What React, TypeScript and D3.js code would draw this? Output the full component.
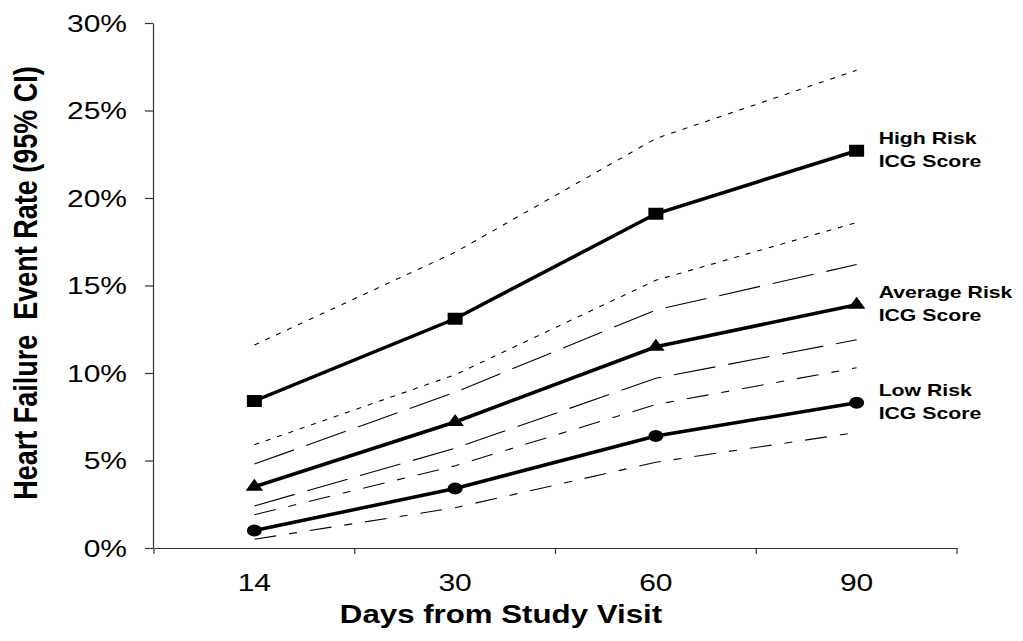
import React, { useEffect, useRef } from "react";
import * as d3 from "d3";

// days from study visit
const days = ["14", "30", "60", "90"];

// event rates in %
const highRisk = [8.4, 13.1, 19.1, 22.7];
const highUpper = [11.6, 16.9, 23.4, 27.3];
const highLower = [5.9, 9.9, 15.3, 18.6];

const avgRisk = [3.5, 7.2, 11.5, 13.9];
const avgUpper = [4.8, 8.9, 13.6, 16.2];
const avgLower = [2.4, 5.7, 9.7, 11.9];

const lowRisk = [1.0, 3.4, 6.4, 8.3];
const lowUpper = [1.9, 4.7, 8.2, 10.3];
const lowLower = [0.5, 2.3, 4.9, 6.6];

const yTicks = [0, 5, 10, 15, 20, 25, 30];

const FONT = "'Liberation Sans', Arial, sans-serif";
const SX = 1.25; // the original picture is stretched sideways

const App = () => {
  const svgRef = useRef<SVGSVGElement>(null);

  useEffect(() => {
    const svg = d3.select(svgRef.current);
    svg.selectAll("*").remove();

    const x = d3.scaleBand().domain(days).range([154, 957]);
    const y = d3.scaleLinear().domain([0, 30]).range([548, 23]);
    const cx = (d: string) => (x(d) as number) + x.bandwidth() / 2;

    // axes, labels drawn separately so they can be stretched
    const yAxis = svg
      .append("g")
      .attr("transform", "translate(153,0)")
      .call(d3.axisLeft(y).tickValues(yTicks).tickSize(8).tickSizeOuter(0).tickFormat(() => ""));
    const xAxis = svg
      .append("g")
      .attr("transform", "translate(0,548)")
      .call(d3.axisBottom(x).tickSize(0).tickSizeOuter(0).tickFormat(() => ""));
    [yAxis, xAxis].forEach((g) => {
      g.selectAll("path,line").attr("stroke", "#333").attr("stroke-width", 1.2);
    });
    // x ticks sit on the band edges
    const edges = days.map((d) => x(d) as number).concat([x.range()[1]]);
    xAxis
      .selectAll("line.edge")
      .data(edges)
      .enter()
      .append("line")
      .attr("x1", (d) => d)
      .attr("x2", (d) => d)
      .attr("y1", 0)
      .attr("y2", 6)
      .attr("stroke", "#333")
      .attr("stroke-width", 1.2);

    const text = (
      tx: number,
      ty: number,
      s: string,
      size: number,
      weight: string,
      anchor: string,
      extra = ""
    ) =>
      svg
        .append("text")
        .attr("transform", `translate(${tx},${ty}) scale(${SX},1) ${extra}`)
        .attr("text-anchor", anchor)
        .attr("font-family", FONT)
        .attr("font-size", size)
        .attr("font-weight", weight)
        .attr("fill", "#000")
        .style("white-space", "pre")
        .text(s);

    yTicks.forEach((t) => text(127, y(t) + 8.5, `${t}%`, 24, "normal", "end"));
    days.forEach((d) => text(cx(d), 591, d, 24, "normal", "middle"));

    text(501, 623, "Days from Study Visit", 25, "bold", "middle");
    text(37, 283, "Heart Failure  Event Rate (95% CI)", 27, "bold", "middle", "rotate(-90)");

    const line = d3
      .line<number>()
      .x((_, i) => cx(days[i]))
      .y((v) => y(v));

    const ci: [number[], string][] = [
      [highUpper, "5,7"],
      [highLower, "5,7"],
      [avgUpper, "42,13"],
      [avgLower, "42,13"],
      [lowUpper, "22,13,8,13"],
      [lowLower, "22,13,8,13"],
    ];
    ci.forEach(([vals, dash]) => {
      svg
        .append("path")
        .attr("d", line(vals))
        .attr("fill", "none")
        .attr("stroke", "#000")
        .attr("stroke-width", 1.1)
        .attr("stroke-dasharray", dash);
    });

    const series: [number[], d3.SymbolType, number, string[]][] = [
      [highRisk, d3.symbolSquare, 144, ["High Risk", "ICG Score"]],
      [avgRisk, d3.symbolTriangle, 85, ["Average Risk", "ICG Score"]],
      [lowRisk, d3.symbolCircle, 113, ["Low Risk", "ICG Score"]],
    ];
    series.forEach(([vals, type, size, label]) => {
      svg
        .append("path")
        .attr("d", line(vals))
        .attr("fill", "none")
        .attr("stroke", "#000")
        .attr("stroke-width", 3.5);
      svg
        .selectAll(null)
        .data(vals)
        .enter()
        .append("path")
        .attr("transform", (v, i) => `translate(${cx(days[i])},${y(v)}) scale(${SX},1)`)
        .attr("d", d3.symbol().type(type).size(size)())
        .attr("fill", "#000");
      const last = vals[vals.length - 1];
      const lx = cx(days[days.length - 1]) + 22;
      text(lx, y(last) - 7, label[0], 17, "bold", "start");
      text(lx, y(last) + 16, label[1], 17, "bold", "start");
    });
  }, []);

  return (
    <svg
      ref={svgRef}
      width={1023}
      height={641}
      style={{ position: "absolute", left: 0, top: 0, background: "#fff" }}
    ></svg>
  );
};

export default App;
